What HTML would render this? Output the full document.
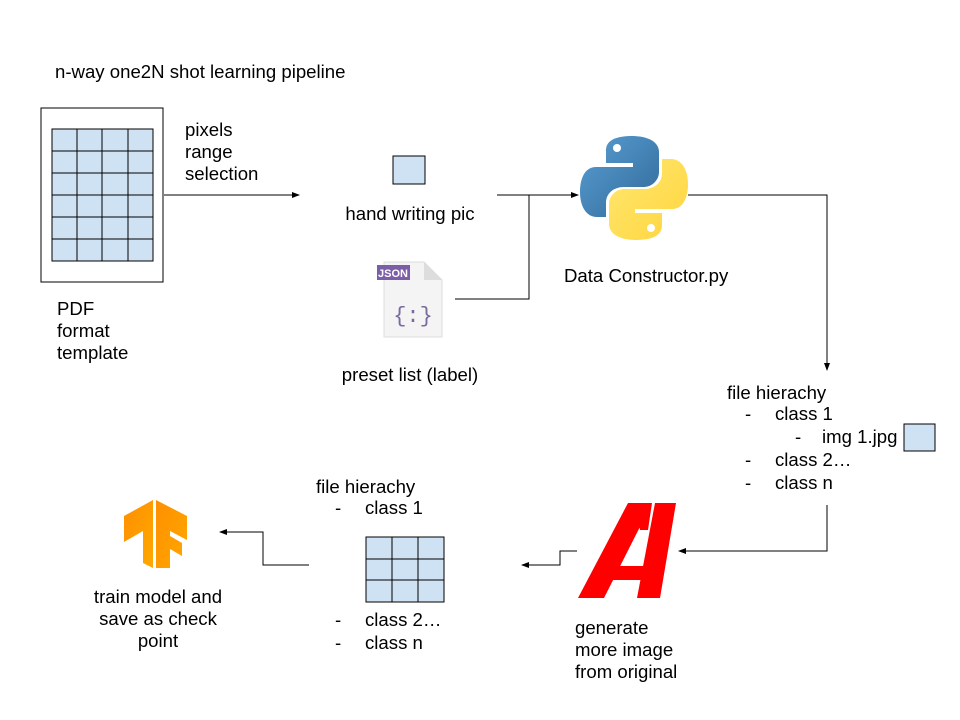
<!DOCTYPE html>
<html><head><meta charset="utf-8"><style>
html,body{margin:0;padding:0;background:#fff;}
svg{display:block;}
text{font-family:"Liberation Sans",Arial,sans-serif;font-size:18.6px;fill:#000;}
</style></head><body>
<svg width="960" height="720" viewBox="0 0 960 720" xmlns="http://www.w3.org/2000/svg">
<defs>
<marker id="ah" markerWidth="8" markerHeight="6" refX="7" refY="3" orient="auto" markerUnits="userSpaceOnUse">
<path d="M0,0 L8,3 L0,6 z" fill="#000"/></marker>
<linearGradient id="pb" x1="0" y1="0" x2="1" y2="1"><stop offset="0" stop-color="#5a9fd4"/><stop offset="1" stop-color="#306998"/></linearGradient>
<linearGradient id="py" x1="0" y1="0" x2="1" y2="1"><stop offset="0" stop-color="#ffe873"/><stop offset="1" stop-color="#ffd43b"/></linearGradient>
<linearGradient id="tf" x1="0" y1="0" x2="1" y2="1"><stop offset="0" stop-color="#ff8f00"/><stop offset="1" stop-color="#ffa800"/></linearGradient>
</defs>

<text x="55" y="78">n-way one2N shot learning pipeline</text>

<rect x="41" y="108" width="122" height="174" fill="#fff" stroke="#000" stroke-width="1"/>
<rect x="52" y="129" width="101" height="132" fill="#cfe2f3" stroke="#000"/>
<g stroke="#000" stroke-width="1">
<line x1="77" y1="129" x2="77" y2="261"/><line x1="102" y1="129" x2="102" y2="261"/><line x1="128" y1="129" x2="128" y2="261"/>
<line x1="52" y1="151" x2="153" y2="151"/><line x1="52" y1="173" x2="153" y2="173"/><line x1="52" y1="195" x2="153" y2="195"/><line x1="52" y1="217" x2="153" y2="217"/><line x1="52" y1="239" x2="153" y2="239"/>
</g>
<text x="57" y="315">PDF</text><text x="57" y="337">format</text><text x="57" y="359">template</text>

<text x="185" y="136">pixels</text><text x="185" y="158">range</text><text x="185" y="180">selection</text>
<line x1="164" y1="195" x2="299" y2="195" stroke="#000" marker-end="url(#ah)"/>

<rect x="393" y="156" width="32" height="28" fill="#cfe2f3" stroke="#000"/>
<text x="410" y="220" text-anchor="middle">hand writing pic</text>

<path d="M384,262 L424,262 L442,280 L442,337 L384,337 z" fill="#f4f4f4" stroke="#ddd"/>
<path d="M424,262 L424,280 L442,280 z" fill="#ddd"/>
<rect x="377" y="265" width="33" height="15" fill="#7b5ea7"/>
<text x="393" y="277" text-anchor="middle" style="font-size:11px;font-weight:bold;fill:#fff">JSON</text>
<text x="413" y="322" text-anchor="middle" style="font-size:22px;fill:#7b6a9e;font-family:'Liberation Mono',monospace">{:}</text>
<text x="410" y="381" text-anchor="middle">preset list (label)</text>

<path d="M497,195 L578,195" stroke="#000" fill="none" marker-end="url(#ah)"/>
<path d="M455,299 L529,299 L529,195" stroke="#000" fill="none"/>

<path d="M632,136 C605,136 606,148 606,152 L606,163 L633,163 L633,167 L596,167 C584,167 580,180 580,192 C580,206 586,217 597,217 L606,217 L606,203 C606,193 614,187 624,187 L644,187 C652,187 659,180 659,172 L659,152 C659,143 650,136 632,136 z" fill="url(#pb)"/>
<circle cx="617" cy="148" r="4" fill="#fff"/>
<path d="M636,240 C663,240 662,228 662,224 L662,213 L635,213 L635,209 L672,209 C684,209 688,196 688,184 C688,170 682,159 671,159 L662,159 L662,173 C662,183 654,189 644,189 L624,189 C616,189 609,196 609,204 L609,224 C609,233 618,240 636,240 z" fill="url(#py)"/>
<circle cx="651" cy="228" r="4" fill="#fff"/>
<text x="564" y="282">Data Constructor.py</text>

<path d="M688,195 L827,195 L827,370" stroke="#000" fill="none" marker-end="url(#ah)"/>

<text x="727" y="399">file hierachy</text>
<text x="745" y="420">-</text><text x="775" y="420">class 1</text>
<text x="795" y="443">-</text><text x="822" y="443">img 1.jpg</text>
<rect x="904" y="424" width="31" height="27" fill="#cfe2f3" stroke="#000"/>
<text x="745" y="466">-</text><text x="775" y="466">class 2…</text>
<text x="745" y="489">-</text><text x="775" y="489">class n</text>

<path d="M827,505 L827,551 L679,551" stroke="#000" fill="none" marker-end="url(#ah)"/>

<g fill="#ff0000">
<polygon points="578,598 628,503 652,503 604,598"/>
<polygon points="655,503 676,503 660,598 637,598"/>
<polygon points="616,566 646,566 643,580 609,580"/>
<polygon points="638,520 652,503 648,530 640,530"/>
</g>
<text x="575" y="634">generate</text><text x="575" y="656">more image</text><text x="575" y="678">from original</text>

<path d="M577,551 L560,551 L560,565 L522,565" stroke="#000" fill="none" marker-end="url(#ah)"/>

<text x="316" y="493">file hierachy</text>
<text x="335" y="514">-</text><text x="365" y="514">class 1</text>
<rect x="366" y="537" width="78" height="65" fill="#cfe2f3" stroke="#000"/>
<g stroke="#000"><line x1="392" y1="537" x2="392" y2="602"/><line x1="418" y1="537" x2="418" y2="602"/>
<line x1="366" y1="559" x2="444" y2="559"/><line x1="366" y1="580" x2="444" y2="580"/></g>
<text x="335" y="626">-</text><text x="365" y="626">class 2…</text>
<text x="335" y="649">-</text><text x="365" y="649">class n</text>

<path d="M309,565 L263,565 L263,532 L220,532" stroke="#000" fill="none" marker-end="url(#ah)"/>

<g fill="url(#tf)">
<polygon points="124,516 153,500 153,568 143,563 143,531 124,542"/>
<polygon points="156,500 187,516 187,540 170,531 170,536 182,543 182,556 170,549 170,568 156,568"/>
</g>
<text x="158" y="603" text-anchor="middle">train model and</text>
<text x="158" y="625" text-anchor="middle">save as check</text>
<text x="158" y="647" text-anchor="middle">point</text>
</svg>
</body></html>
